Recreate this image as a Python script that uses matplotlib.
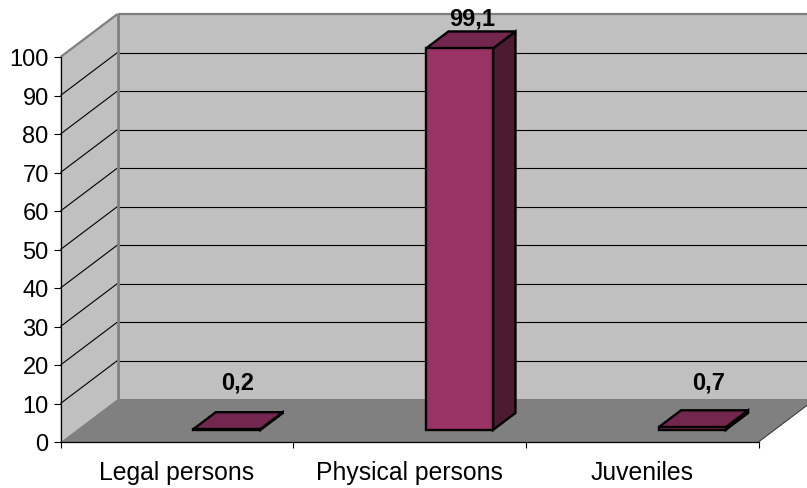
import numpy as np
import matplotlib
matplotlib.use('Agg')
import matplotlib.pyplot as plt

plt.rcParams['font.family'] = ['Liberation Sans', 'DejaVu Sans']

# data
categories = ['Legal persons', 'Physical persons', 'Juveniles']
values = [0.2, 99.1, 0.7]
value_labels = ['0,2', '99,1', '0,7']
y_ticks = [0, 10, 20, 30, 40, 50, 60, 70, 80, 90, 100]

W, H = 807, 489
# front plane of the 3d box in pixels
left, right, bottom, top = 60.5, 758.5, 443, 58
depth_px = (57, 43)

fig = plt.figure(figsize=(W / 100, H / 100), dpi=100)
ax = fig.add_axes([left / W, 1 - bottom / H, (right - left) / W, (bottom - top) / H])
ax.set_xlim(0, 3)
ax.set_ylim(0, 100)
ax.patch.set_visible(False)

# data units per pixel
sx = 3 / (right - left)
sy = 100 / (bottom - top)


def proj(x, v, d):
    # category pos, value, depth (0 front, 1 back) -> data coords
    return x + d * depth_px[0] * sx, v + d * depth_px[1] * sy


def face(points, color, lw=0, edge='black', z=1):
    pts = [proj(*p) for p in points]
    ax.fill([p[0] for p in pts], [p[1] for p in pts], facecolor=color,
            edgecolor=edge, linewidth=lw, joinstyle='miter', clip_on=False, zorder=z)


def seg(a, b, color='black', lw=0.8, z=2):
    p, q = proj(*a), proj(*b)
    ax.plot([p[0], q[0]], [p[1], q[1]], color=color, lw=lw, clip_on=False,
            solid_capstyle='butt', zorder=z)


# walls and floor
face([(0, 0, 1), (3, 0, 1), (3, 100, 1), (0, 100, 1)], '#c0c0c0')
face([(0, 0, 0), (0, 0, 1), (0, 100, 1), (0, 100, 0)], '#c0c0c0')
face([(0, 0, 0), (3, 0, 0), (3, 0, 1), (0, 0, 1)], '#808080')

# grid on back and side wall
for t in y_ticks[1:-1]:
    seg((0, t, 0), (0, t, 1))
    seg((0, t, 1), (3, t, 1))
seg((0, 100, 0), (0, 100, 1), '#808080', 1.6)
seg((0, 100, 1), (3, 100, 1), '#808080', 1.6)
seg((0, 0, 1), (0, 100, 1), '#808080', 2.0, z=3)
seg((3, 0, 0), (3, 0, 1), '#303030', 0.7)

# bars
bar_w = 67 * sx
bar_shift = 34 * sx
d0, d1 = 0.28, 0.675
label_offsets = [(0, 19), (2, 2), (5, 17)]  # px from back top centre of bar

for i, v in enumerate(values):
    x0 = i + 0.5 + bar_shift - bar_w / 2
    x1 = x0 + bar_w
    face([(x1, 0, d0), (x1, 0, d1), (x1, v, d1), (x1, v, d0)], '#4d1a33', 1.7, z=4)
    face([(x0, v, d0), (x1, v, d0), (x1, v, d1), (x0, v, d1)], '#74274e', 1.7, z=4)
    face([(x0, 0, d0), (x1, 0, d0), (x1, v, d0), (x0, v, d0)], '#993366', 1.7, z=5)
    lx, ly = proj((x0 + x1) / 2, v, d1)
    ax.annotate(value_labels[i], (lx, ly), xytext=(label_offsets[i][0] * 0.72 - 11.5 * 0.72, label_offsets[i][1] * 0.72),
                textcoords='offset points', ha='center', va='bottom', fontsize=17,
                fontweight='bold', color='black', annotation_clip=False, zorder=6)

# axes
for s in ['top', 'right']:
    ax.spines[s].set_visible(False)
ax.spines['left'].set_linewidth(0.9)
ax.spines['bottom'].set_linewidth(0.9)
ax.spines['left'].set_zorder(7)
ax.spines['bottom'].set_zorder(7)

ax.set_yticks(y_ticks)
ax.tick_params(axis='y', length=5, width=0.8, pad=3.5, labelsize=17)
ax.set_xticks([0, 1, 2, 3])
ax.set_xticklabels([])
ax.set_xticks([0.5, 1.5, 2.5], minor=True)
ax.set_xticklabels(categories, minor=True, fontsize=17.8)
ax.tick_params(axis='x', which='major', length=4.5, width=0.8)
ax.tick_params(axis='x', which='minor', length=0, pad=13)

fig.savefig('out.png', dpi=100, facecolor='white')
